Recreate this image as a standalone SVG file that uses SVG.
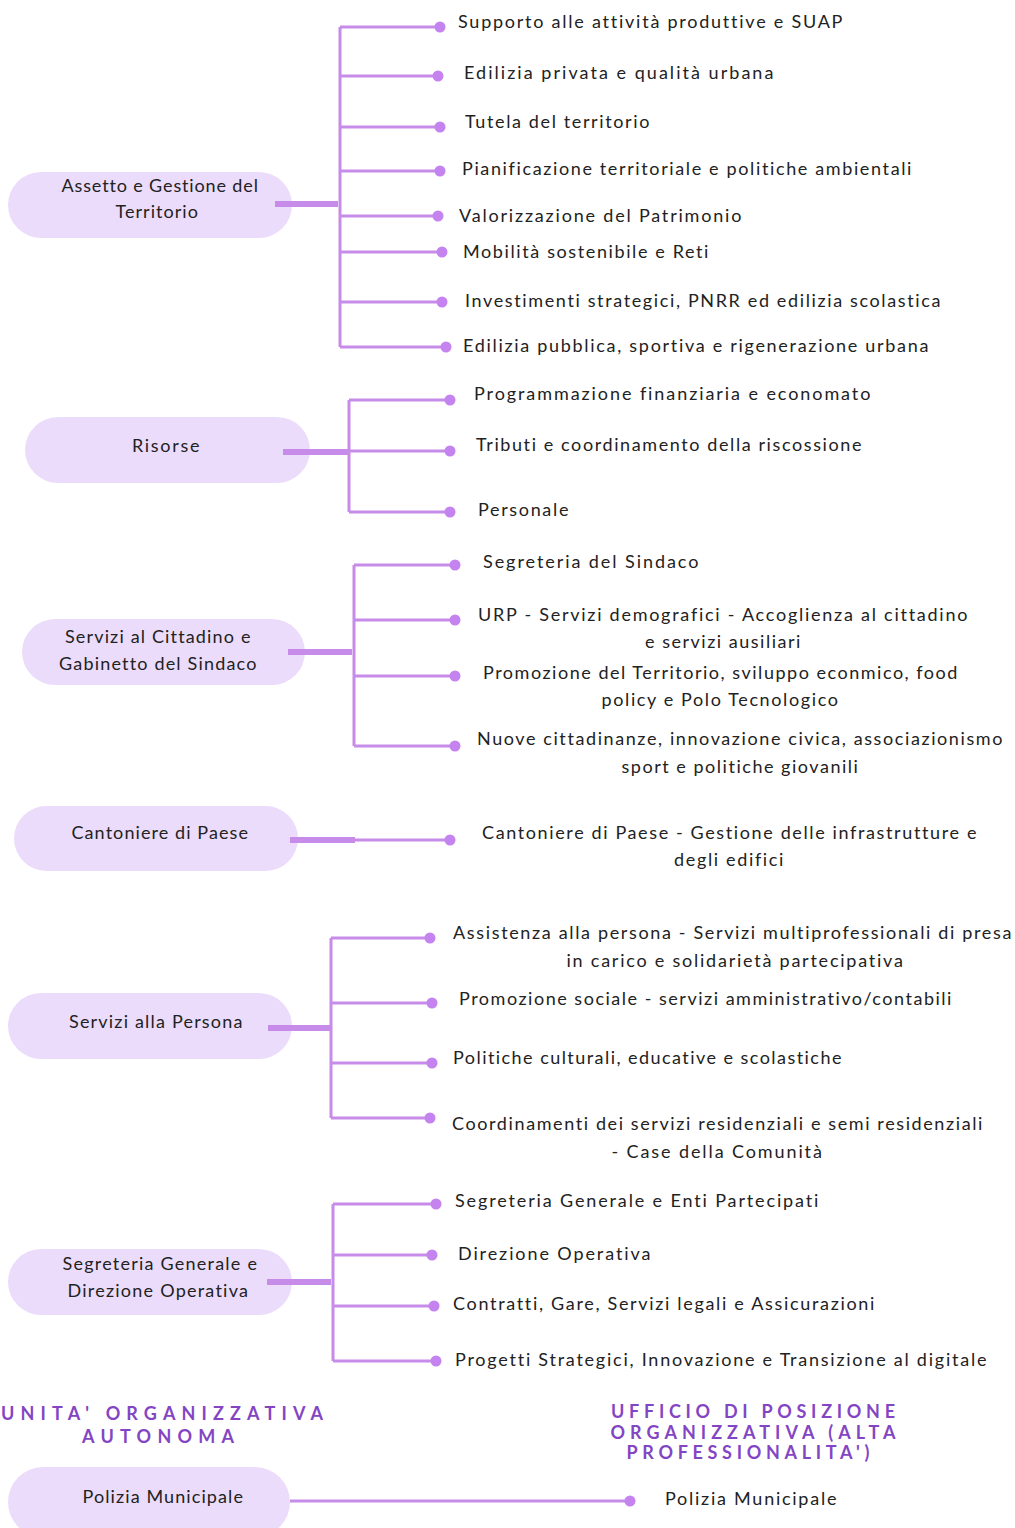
<svg xmlns="http://www.w3.org/2000/svg" width="1015" height="1528" viewBox="0 0 1015 1528">
<style>
.pill{fill:#ecdcfb}
.ln{stroke:#c78ce9;stroke-width:3;fill:none}
.tk{stroke:#c78ce9;stroke-width:6;fill:none}
.dot{fill:#c583f0}
text{font-family:Lato,"Liberation Sans",sans-serif;font-size:18px;fill:#222;letter-spacing:0.6px}
.c{text-anchor:middle}
.h{font-family:Lato,"Liberation Sans",sans-serif;font-size:18px;fill:#8445c4;font-weight:bold;letter-spacing:4px;text-anchor:middle}
</style>
<rect width="1015" height="1528" fill="#fff"/>
<g id="n-assetto"><rect class="pill" x="8" y="172" width="284" height="66" rx="33"/><text class="c" x="160" y="192" textLength="197">Assetto e Gestione del</text><text class="c" x="157" y="218" textLength="83">Territorio</text></g>
<g id="n-risorse"><rect class="pill" x="25" y="417" width="285" height="66" rx="33"/><text class="c" x="166" y="452" textLength="68">Risorse</text></g>
<g id="n-cittadino"><rect class="pill" x="22" y="619" width="283" height="66" rx="33"/><text class="c" x="158" y="643" textLength="186">Servizi al Cittadino e</text><text class="c" x="158" y="670" textLength="198">Gabinetto del Sindaco</text></g>
<g id="n-cantoniere"><rect class="pill" x="14" y="806" width="284" height="65" rx="32.5"/><text class="c" x="160" y="839" textLength="177">Cantoniere di Paese</text></g>
<g id="n-persona"><rect class="pill" x="8" y="993" width="284" height="66" rx="33"/><text class="c" x="156" y="1028" textLength="174">Servizi alla Persona</text></g>
<g id="n-segreteria"><rect class="pill" x="8" y="1249" width="284" height="66" rx="33"/><text class="c" x="160" y="1270" textLength="195">Segreteria Generale e</text><text class="c" x="158" y="1297" textLength="181">Direzione Operativa</text></g>
<g id="n-polizia"><rect class="pill" x="8" y="1467" width="282" height="70" rx="35"/><text class="c" x="163" y="1503" textLength="161">Polizia Municipale</text></g>
<g id="connectors">
<path class="ln" d="M340 27V347M340 27H440M340 76H438M340 127H440M340 171H440M340 216H438M340 252H442M340 302H442M340 347H446"/>
<path class="tk" d="M275 204H338"/>
<path class="ln" d="M349 400V512M349 400H450M349 451H450M349 512H450"/>
<path class="tk" d="M283 452H348"/>
<path class="ln" d="M354 565V746M354 565H455M354 620H455M354 676H455M354 746H455"/>
<path class="tk" d="M288 652H352"/>
<path class="ln" d="M355 840H450"/>
<path class="tk" d="M290 840H355"/>
<path class="ln" d="M331 938V1118M331 938H430M331 1003H432M331 1063H432M331 1118H430"/>
<path class="tk" d="M268 1028H330"/>
<path class="ln" d="M333 1204V1361M333 1204H436M333 1255H432M333 1306H434M333 1361H436"/>
<path class="tk" d="M267 1282H331"/>
<path class="ln" d="M290 1501H630"/>
<g class="dots">
<circle class="dot" cx="440" cy="27" r="5.5"/><circle class="dot" cx="438" cy="76" r="5.5"/><circle class="dot" cx="440" cy="127" r="5.5"/><circle class="dot" cx="440" cy="171" r="5.5"/><circle class="dot" cx="438" cy="216" r="5.5"/><circle class="dot" cx="442" cy="252" r="5.5"/><circle class="dot" cx="442" cy="302" r="5.5"/><circle class="dot" cx="446" cy="347" r="5.5"/>
<circle class="dot" cx="450" cy="400" r="5.5"/><circle class="dot" cx="450" cy="451" r="5.5"/><circle class="dot" cx="450" cy="512" r="5.5"/>
<circle class="dot" cx="455" cy="565" r="5.5"/><circle class="dot" cx="455" cy="620" r="5.5"/><circle class="dot" cx="455" cy="676" r="5.5"/><circle class="dot" cx="455" cy="746" r="5.5"/>
<circle class="dot" cx="450" cy="840" r="5.5"/>
<circle class="dot" cx="430" cy="938" r="5.5"/><circle class="dot" cx="432" cy="1003" r="5.5"/><circle class="dot" cx="432" cy="1063" r="5.5"/><circle class="dot" cx="430" cy="1118" r="5.5"/>
<circle class="dot" cx="436" cy="1204" r="5.5"/><circle class="dot" cx="432" cy="1255" r="5.5"/><circle class="dot" cx="434" cy="1306" r="5.5"/><circle class="dot" cx="436" cy="1361" r="5.5"/>
<circle class="dot" cx="630" cy="1501" r="5.5"/>
</g>
</g>
<g id="leaves">
<text x="458" y="28" textLength="385">Supporto alle attività produttive e SUAP</text>
<text x="464" y="79" textLength="310">Edilizia privata e qualità urbana</text>
<text x="465" y="128" textLength="185">Tutela del territorio</text>
<text x="462" y="175" textLength="450">Pianificazione territoriale e politiche ambientali</text>
<text x="459" y="222" textLength="283">Valorizzazione del Patrimonio</text>
<text x="463" y="258" textLength="246">Mobilità sostenibile e Reti</text>
<text x="465" y="307" textLength="476">Investimenti strategici, PNRR ed edilizia scolastica</text>
<text x="463" y="352" textLength="466">Edilizia pubblica, sportiva e rigenerazione urbana</text>
<text x="474" y="400" textLength="397">Programmazione finanziaria e economato</text>
<text x="476" y="451" textLength="386">Tributi e coordinamento della riscossione</text>
<text x="478" y="516" textLength="91">Personale</text>
<text x="483" y="568" textLength="216">Segreteria del Sindaco</text>
<text x="478" y="621" textLength="490">URP - Servizi demografici - Accoglienza al cittadino</text>
<text class="c" x="723" y="648" textLength="156">e servizi ausiliari</text>
<text x="483" y="679" textLength="475">Promozione del Territorio, sviluppo econmico, food</text>
<text class="c" x="720" y="706" textLength="237">policy e Polo Tecnologico</text>
<text x="477" y="745" textLength="526">Nuove cittadinanze, innovazione civica, associazionismo</text>
<text class="c" x="740" y="773" textLength="237">sport e politiche giovanili</text>
<text x="482" y="839" textLength="495">Cantoniere di Paese - Gestione delle infrastrutture e</text>
<text class="c" x="729" y="866" textLength="110">degli edifici</text>
<text x="453" y="939" textLength="559">Assistenza alla persona - Servizi multiprofessionali di presa</text>
<text class="c" x="735" y="967" textLength="337">in carico e solidarietà partecipativa</text>
<text x="459" y="1005" textLength="493">Promozione sociale - servizi amministrativo/contabili</text>
<text x="453" y="1064" textLength="389">Politiche culturali, educative e scolastiche</text>
<text x="452" y="1130" textLength="531">Coordinamenti dei servizi residenziali e semi residenziali</text>
<text class="c" x="717" y="1158" textLength="211">- Case della Comunità</text>
<text x="455" y="1207" textLength="364">Segreteria Generale e Enti Partecipati</text>
<text x="458" y="1260" textLength="193">Direzione Operativa</text>
<text x="453" y="1310" textLength="422">Contratti, Gare, Servizi legali e Assicurazioni</text>
<text x="455" y="1366" textLength="532">Progetti Strategici, Innovazione e Transizione al digitale</text>
<text x="665" y="1505" textLength="172">Polizia Municipale</text>
</g>
<g id="headers">
<text class="h" x="164" y="1420" textLength="326">UNITA' ORGANIZZATIVA</text>
<text class="h" x="160" y="1443" textLength="156">AUTONOMA</text>
<text class="h" x="755" y="1418" textLength="288">UFFICIO DI POSIZIONE</text>
<text class="h" x="755" y="1439" textLength="289">ORGANIZZATIVA (ALTA</text>
<text class="h" x="750" y="1459" textLength="247">PROFESSIONALITA')</text>
</g>
</svg>
